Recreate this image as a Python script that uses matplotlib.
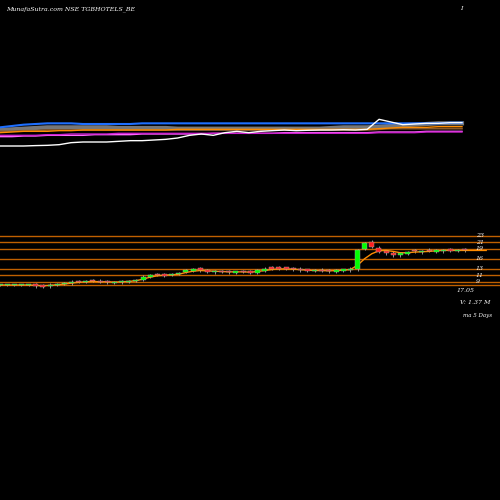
import numpy as np
import matplotlib
matplotlib.use("Agg")
import matplotlib.pyplot as plt

# price candles (left to right)
closes = [8, 8, 8, 8, 8, 7.6, 7.5, 8.1, 8.3, 8.5, 9, 9, 9.1, 9.2, 8.9, 8.8, 8.9, 9, 9.2, 9.5,
          10.5, 11, 11, 10.8, 11.3, 11.5, 12.5, 12.8, 12.5, 12, 12.1, 12, 11.9, 12, 12, 11.8,
          12.5, 13, 13, 13, 13, 12.8, 12.5, 12.4, 12.5, 12.3, 12.2, 12.4, 12.6, 13,
          18.6, 20.8, 19.5, 18, 17.6, 17.0, 17.6, 18, 18.2, 18.3, 18.4, 18.5, 18.6, 18.4, 18.6, 18.5]
opens = [8, 8, 8, 8, 8, 8.2, 7.9, 7.6, 8.1, 8.3, 8.5, 9.2, 9, 9.4, 9.3, 9, 8.7, 8.8, 9, 9.2,
         9.5, 10.4, 11.3, 11.4, 11, 11.3, 12, 12.3, 13.1, 12.6, 11.9, 12.3, 12.2, 11.8, 12.2, 12.1,
         11.7, 12.3, 13.3, 13.3, 13.2, 13.1, 13, 12.6, 12.3, 12.7, 12.5, 12.1, 12.4, 12.5,
         12.8, 19.0, 21.2, 19.3, 18.3, 17.8, 17.0, 17.5, 18.5, 17.9, 18.7, 18.1, 18.2, 18.8, 18.3, 18.8]
ma_price = [8, 8, 8, 8, 8, 7.9, 7.8, 7.9, 8.1, 8.3, 8.6, 8.8, 9, 9.1, 9, 9, 8.9, 9, 9.1, 9.3,
            9.8, 10.4, 10.8, 11, 11.1, 11.3, 11.8, 12.2, 12.4, 12.3, 12.2, 12.1, 12, 12, 12, 11.9,
            12.1, 12.4, 12.7, 12.9, 12.9, 12.8, 12.7, 12.5, 12.4, 12.4, 12.3, 12.4, 12.5, 12.7,
            14, 16, 17.5, 18.4, 18.5, 18.2, 17.8, 17.8, 18, 18.1, 18.2, 18.4, 18.5, 18.5, 18.5, 18.5, 18.5, 18.5, 18.5]
levels = [23, 21, 19, 16, 13, 11, 9, 8]
level_labels = ["23", "21", "19", "16", "13", "11", "9", ""]

# indicator panel lines (height units)
white_ind = [3, 3, 3, 3.3, 3.5, 4, 5.5, 6, 6, 6, 6.5, 7, 7, 7.5, 8, 9, 11, 12, 11, 13, 14,
             13, 14, 14.5, 15, 14.5, 14.8, 15, 15, 15.2, 15, 15.5, 23, 21, 19, 19.5, 20, 20, 20.5, 20.5]
blue_ind = [17, 18, 19, 19.5, 20, 20, 20, 19.5, 19.5, 19.5, 19.5, 19.5, 20, 20, 20, 20, 20, 20, 20, 20, 20,
            20, 20, 20, 20, 20, 20, 20, 20, 20, 20, 20, 20, 20, 20, 20, 20, 20, 20.5, 20.5]
gray_ind = [15, 15.5, 16, 16.5, 17, 17, 17, 17, 17, 17, 16.5, 16.5, 16.5, 16.5, 16.5, 16, 16, 16, 16, 16,
            16, 16, 16, 16, 16, 16, 16, 16, 16.5, 17, 17, 17, 17.5, 18, 18.5, 19, 19.5, 20, 20, 20]
orange_ind = [13, 13.5, 14, 14, 14, 14.5, 14.5, 15, 15, 15, 15, 15, 15, 15, 15, 15.5, 15.5, 15.5, 15.5, 15.5,
              15.5, 15.5, 15.5, 15.5, 15.5, 15.5, 15.5, 15.5, 15.5, 15.5, 15.5, 15.5, 16, 16.5, 17, 17, 17, 17.5, 17.5, 17.5]
brown_ind = [14, 14, 14.5, 14.5, 15, 15, 15, 15, 15, 15, 15, 15, 15, 15, 15, 15, 15, 15, 15, 15,
             15, 15, 15, 15, 15, 15, 15, 15, 15, 15, 15, 15, 15.5, 16, 16, 16, 16, 16, 16, 16]
magenta_ind = [11, 11, 11, 11, 11.5, 11.5, 12, 12, 12, 12, 12.5, 12.5, 12.5, 12.5, 12.5, 12.5, 12.5, 12.5, 12.5, 12.5,
               12.5, 12.5, 12.5, 12.5, 12.5, 12.5, 12.5, 12.5, 12.5, 12.5, 12.5, 12.5, 13, 13, 13, 13, 13.5, 13.5, 13.5, 13.5]
pink_ind = [10, 10, 10.5, 10.5, 11, 11, 11, 11, 11.5, 11.5, 11.5, 11.5, 12, 12, 12, 12, 12, 12, 12.5, 12.5,
            12.5, 12.5, 12.5, 12.5, 13, 13, 13, 13, 13, 13, 13, 13, 13.5, 13.5, 13.5, 13.5, 14, 14, 14, 14]

fig = plt.figure(figsize=(5, 5), dpi=100, facecolor="black")
font = dict(family="DejaVu Serif", style="italic", color="white")
fig.text(0.012, 0.988, "MunafaSutra.com NSE TGBHOTELS_BE", fontsize=4.5, va="top", **font)
fig.text(0.92, 0.988, "I", fontsize=4.5, va="top", **font)

# indicator panel
ax1 = fig.add_axes([0, 1 - 150 / 500, 1, 40 / 500], facecolor="black")
xi = np.linspace(0, 462, len(white_ind))
for vals, c, lw in [(gray_ind, "#777777", 3), (blue_ind, "#1e6fff", 1.5), (brown_ind, "#8b5a2b", 1.2),
                    (orange_ind, "#ff8c00", 1), (pink_ind, "#ff66ff", 1), (magenta_ind, "#cc22cc", 1),
                    (white_ind, "white", 1)]:
    ax1.plot(xi, vals, color=c, lw=lw)
ax1.set_xlim(0, 500)
ax1.set_ylim(0, 30)
ax1.axis("off")

# price panel
ax = fig.add_axes([0, 1 - 290 / 500, 1, 60 / 500], facecolor="black")
ax.set_xlim(0, 500)
ax.set_ylim(6.5, 24.7)
for lv, lab in zip(levels, level_labels):
    ax.axhline(lv, color="#c06000", lw=1)
    ax.text(476, lv, lab, fontsize=4.5, va="center", **font)
x = np.arange(len(closes)) * 7.15
for xx, o, c in zip(x, opens, closes):
    col = "#00ff00" if c >= o else "#ff2020"
    lo, hi = min(o, c), max(o, c)
    ax.vlines(xx, lo - 0.4, hi + 0.4, color="#aaaaaa", lw=0.6)
    ax.bar(xx, max(hi - lo, 0.35), bottom=lo, width=5, color=col, edgecolor="#aaaaaa", lw=0.3, zorder=3)
ax.plot(np.arange(len(ma_price)) * 7.15, ma_price, color="#ff8c00", lw=1, zorder=2)
ax.axis("off")

fig.text(0.95, 1 - 290 / 500, "17.05", fontsize=4.5, ha="right", va="center", **font)
fig.text(0.98, 1 - 302 / 500, "V: 1.37 M", fontsize=4.5, ha="right", va="center", **font)
fig.text(0.985, 1 - 315 / 500, "ma 5 Days", fontsize=4, ha="right", va="center", **font)

fig.savefig("out.png", dpi=100, facecolor="black")
